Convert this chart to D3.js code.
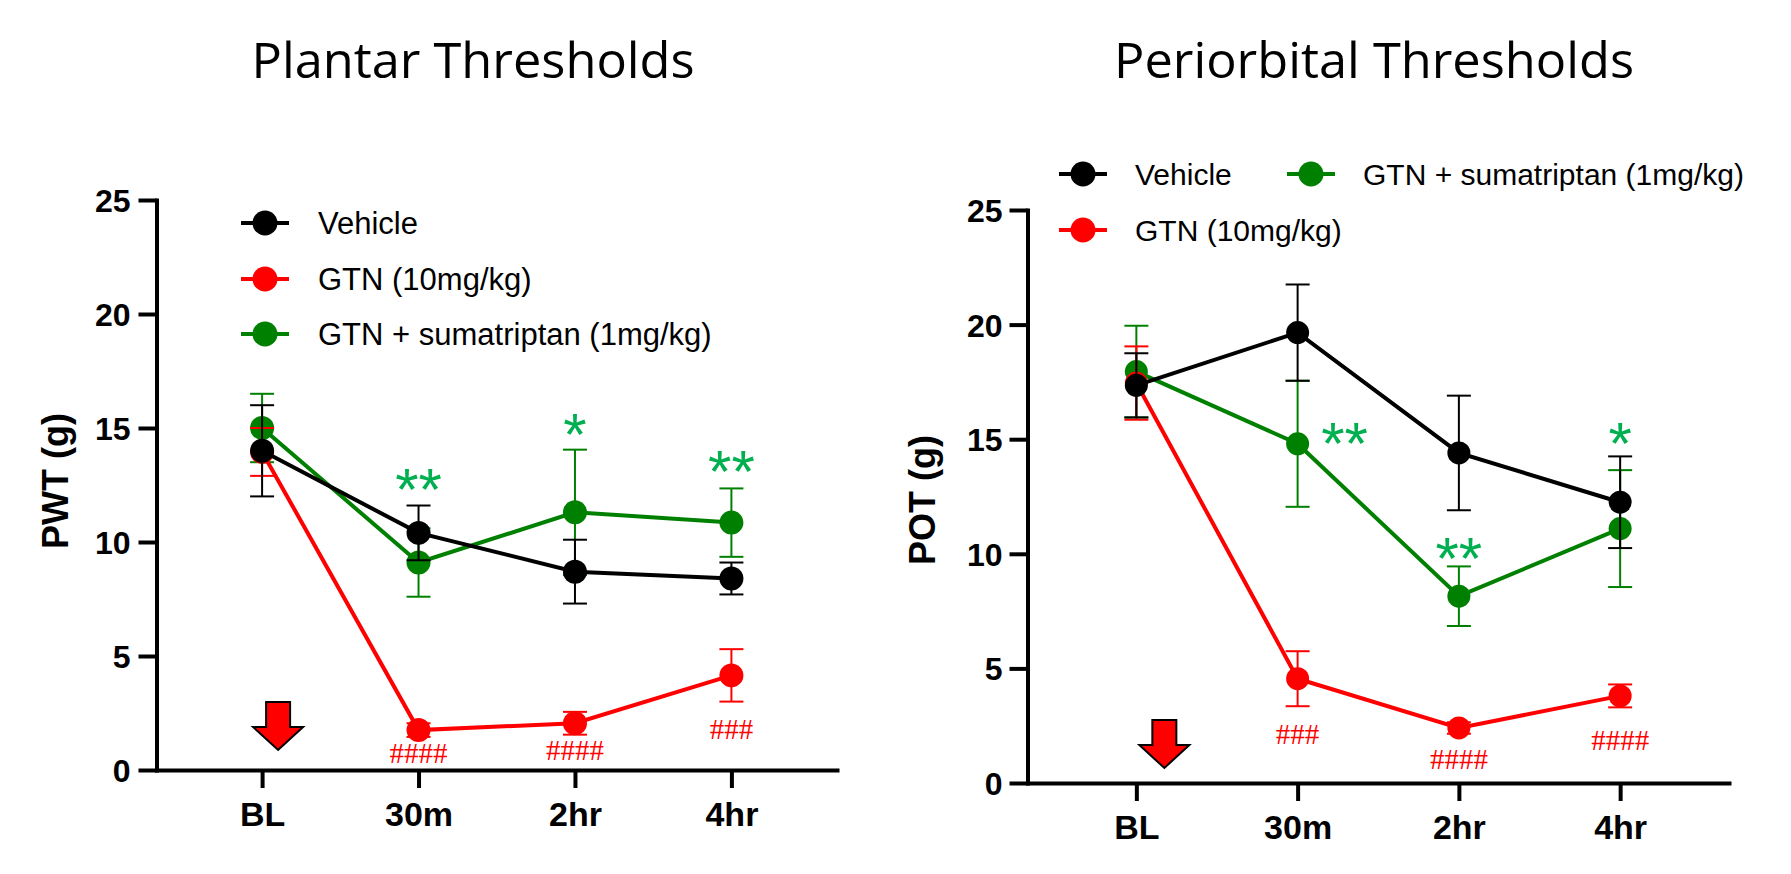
<!DOCTYPE html>
<html><head><meta charset="utf-8">
<script src="https://cdn.jsdelivr.net/npm/d3@7"></script>
<style>html,body{margin:0;padding:0;background:#fff;} svg{display:block;}</style>
</head><body><svg id="c" width="1791" height="874"></svg>
<script>
// ---------- data ----------
const timepoints = ["BL", "30m", "2hr", "4hr"];
const yTickValues = [0, 5, 10, 15, 20, 25];
const seriesNames = ["Vehicle", "GTN (10mg/kg)", "GTN + sumatriptan (1mg/kg)"];

// Plantar thresholds (PWT, g): mean and SEM
const plantarVehicle = [14.0, 10.4, 8.7, 8.4];
const plantarVehicleSem = [2.0, 1.2, 1.4, 0.7];
const plantarGTN = [13.95, 1.75, 2.05, 4.15];
const plantarGTNSem = [1.05, 0.3, 0.5, 1.15];
const plantarSuma = [15.0, 9.1, 11.3, 10.85];
const plantarSumaSem = [1.5, 1.5, 2.75, 1.5];
const plantarStars = ["", "**", "*", "**"];
const plantarStarLevel = [null, 12.9, 15.3, 13.7];
const plantarHash = ["", "####", "####", "###"];
const plantarHashLevel = [null, 0.72, 0.88, 1.8];

// Periorbital thresholds (POT, g): mean and SEM
const periVehicle = [17.35, 19.65, 14.4, 12.25];
const periVehicleSem = [1.4, 2.1, 2.5, 2.0];
const periGTN = [17.45, 4.55, 2.4, 3.8];
const periGTNSem = [1.6, 1.2, 0.25, 0.5];
const periSuma = [17.95, 14.8, 8.15, 11.1];
const periSumaSem = [2.0, 2.75, 1.3, 2.55];
const periStars = ["", "**", "**", "*"];
const periStarLevel = [null, 15.4, 10.4, 15.4];
const periHash = ["", "###", "####", "####"];
const periHashLevel = [null, 2.15, 1.02, 1.86];

// ---------- styles ----------
const COLORS = ["#000000", "#ff0000", "#008000"];
const STAR_COLOR = "#00b050";
const HASH_COLOR = "#ff0000";
const SANS = "'Liberation Sans', Arial, sans-serif";
const SERIF = "'Liberation Serif', 'Times New Roman', serif";

const svg = d3.select("#c");
svg.append("rect").attr("width", 1791).attr("height", 874).attr("fill", "#fff");

function drawPanel(cfg) {
  const g = svg.append("g");
  const x = d3.scalePoint().domain(timepoints).range([cfg.axisX, cfg.axisXEnd]).padding(0.675);
  const y = d3.scaleLinear().domain([0, 25]).range([cfg.axisY, cfg.yTop]);

  // title
  g.append("text").attr("x", cfg.titleX).attr("y", 78)
    .attr("text-anchor", "middle")
    .attr("font-family", "'Open Sans', 'Noto Sans', sans-serif")
    .attr("font-size", 49)
    .attr("textLength", cfg.titleWidth).attr("lengthAdjust", "spacingAndGlyphs")
    .attr("fill", "#000").text(cfg.title);

  // y axis
  const ya = g.append("g").attr("transform", `translate(${cfg.axisX},0)`)
    .call(d3.axisLeft(y).tickValues(yTickValues).tickSize(18).tickSizeOuter(0).tickPadding(cfg.yPad));
  ya.select(".domain").attr("stroke-width", 4).attr("stroke-linecap", "square");
  ya.selectAll(".tick line").attr("stroke-width", 4);
  ya.selectAll(".tick text").attr("font-family", SANS).attr("font-weight", "bold")
    .attr("font-size", 32).attr("dy", "0.36em").attr("fill", "#000");

  // x axis
  const xa = g.append("g").attr("transform", `translate(0,${cfg.axisY})`)
    .call(d3.axisBottom(x).tickSize(18).tickSizeOuter(0));
  xa.select(".domain").attr("stroke-width", 4).attr("stroke-linecap", "square");
  xa.selectAll(".tick line").attr("stroke-width", 4);
  xa.selectAll(".tick text").attr("font-family", SANS).attr("font-weight", "bold")
    .attr("font-size", 34).attr("y", 56).attr("dy", 0).attr("fill", "#000");

  // y axis label
  g.append("text")
    .attr("transform", `translate(${cfg.ylabX},${cfg.ylabY}) rotate(-90)`)
    .attr("text-anchor", "middle").attr("font-family", SANS).attr("font-weight", "bold")
    .attr("font-size", 36).attr("fill", "#000").text(cfg.ylabel);

  // red arrow at BL
  const tx = x("BL") + cfg.arrowDx, ty = cfg.axisY - cfg.arrowGap;
  const sw = 12, hw = 25, hh = 23, H = 48;
  g.append("path")
    .attr("d", `M${tx - sw},${ty - H}H${tx + sw}V${ty - hh}H${tx + hw}L${tx},${ty}L${tx - hw},${ty - hh}H${tx - sw}Z`)
    .attr("fill", "#ff0000").attr("stroke", "#000").attr("stroke-width", 2).attr("stroke-linejoin", "miter");

  // series (drawn green, red, black so black is on top)
  const order = [2, 1, 0];
  order.forEach(si => {
    const means = cfg.means[si], sems = cfg.sems[si], col = COLORS[si];
    const pts = timepoints.map((t, i) => ({ t, m: means[i], s: sems[i] }));
    const sg = g.append("g");
    // error bars
    pts.forEach(p => {
      const cx = x(p.t);
      sg.append("line").attr("x1", cx).attr("x2", cx)
        .attr("y1", y(p.m - p.s)).attr("y2", y(p.m + p.s))
        .attr("stroke", col).attr("stroke-width", 2);
      [p.m - p.s, p.m + p.s].forEach(v => {
        sg.append("line").attr("x1", cx - 12).attr("x2", cx + 12)
          .attr("y1", y(v)).attr("y2", y(v))
          .attr("stroke", col).attr("stroke-width", 2);
      });
    });
    // line
    sg.append("path").datum(pts)
      .attr("d", d3.line().x(p => x(p.t)).y(p => y(p.m)))
      .attr("fill", "none").attr("stroke", col).attr("stroke-width", 4);
    // points
    sg.selectAll("circle").data(pts).join("circle")
      .attr("cx", p => x(p.t)).attr("cy", p => y(p.m)).attr("r", cfg.r)
      .attr("fill", col);
  });

  // significance marks
  const fsStar = 60;
  timepoints.forEach((t, i) => {
    if (cfg.stars[i]) {
      g.append("text").attr("x", x(t) + (cfg.starDx[i] || 0))
        .attr("y", y(cfg.starLevel[i]) + 0.57 * fsStar)
        .attr("text-anchor", "middle").attr("font-family", SANS)
        .attr("font-size", fsStar).attr("fill", STAR_COLOR).text(cfg.stars[i]);
    }
    if (cfg.hash[i]) {
      g.append("text").attr("x", x(t))
        .attr("y", y(cfg.hashLevel[i]) + 0.34 * 29)
        .attr("text-anchor", "middle").attr("font-family", SERIF)
        .attr("font-size", 29).attr("fill", HASH_COLOR).text(cfg.hash[i]);
    }
  });

  // legend
  cfg.legend.forEach((L, si) => {
    const lg = g.append("g");
    lg.append("line").attr("x1", L[0] - 24).attr("x2", L[0] + 24)
      .attr("y1", L[1]).attr("y2", L[1]).attr("stroke", COLORS[si]).attr("stroke-width", 4);
    lg.append("circle").attr("cx", L[0]).attr("cy", L[1]).attr("r", 12.5).attr("fill", COLORS[si]);
    lg.append("text").attr("x", L[0] + cfg.legendTextDx).attr("y", L[1] + 0.36 * cfg.legendFs)
      .attr("font-family", SANS).attr("font-size", cfg.legendFs).attr("fill", "#000")
      .text(seriesNames[si]);
  });
}

drawPanel({
  title: "Plantar Thresholds", titleX: 473, titleWidth: 443,
  axisX: 156.5, axisXEnd: 837, axisY: 770, yTop: 200, yPad: 8,
  ylabel: "PWT (g)", ylabX: 68, ylabY: 481,
  arrowDx: 16, arrowGap: 20, r: 12,
  means: [plantarVehicle, plantarGTN, plantarSuma],
  sems: [plantarVehicleSem, plantarGTNSem, plantarSumaSem],
  stars: plantarStars, starLevel: plantarStarLevel, starDx: [0, 0, 0, 0],
  hash: plantarHash, hashLevel: plantarHashLevel,
  legend: [[265, 223], [265, 279], [265, 334]], legendTextDx: 53, legendFs: 31
});

drawPanel({
  title: "Periorbital Thresholds", titleX: 1374, titleWidth: 520,
  axisX: 1027.5, axisXEnd: 1729, axisY: 783, yTop: 210, yPad: 7,
  ylabel: "POT (g)", ylabX: 935, ylabY: 500,
  arrowDx: 28, arrowGap: 15, r: 11.5,
  means: [periVehicle, periGTN, periSuma],
  sems: [periVehicleSem, periGTNSem, periSumaSem],
  stars: periStars, starLevel: periStarLevel, starDx: [0, 47, 0, 0],
  hash: periHash, hashLevel: periHashLevel,
  legend: [[1083, 174], [1083, 230], [1311, 174]], legendTextDx: 52, legendFs: 30
});
</script>
</body></html>
